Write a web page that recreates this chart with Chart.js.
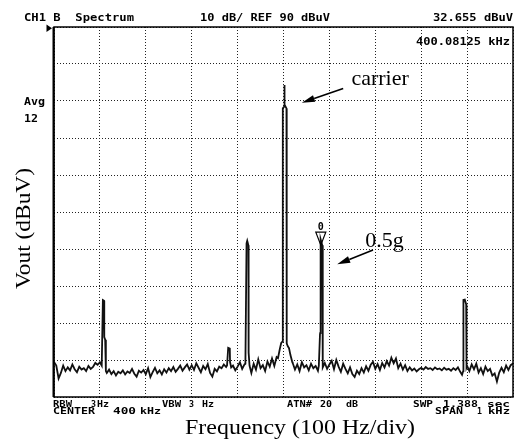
<!DOCTYPE html>
<html>
<head>
<meta charset="utf-8">
<script src="https://cdn.jsdelivr.net/npm/chart.js@4.4.1/dist/chart.umd.min.js"></script>
<style>
  html, body { margin: 0; padding: 0; background: #fff; }
  canvas { display: block; }
</style>
</head>
<body>
<canvas id="spectrum" width="514" height="440"></canvas>
<script>
// Spectrum analyzer screen: CENTER 400 kHz, SPAN 1 kHz, 10 dB/div, REF 90 dBuV

// axis range (offset from 400 kHz in Hz, level in dBuV)
const spanHz = [-500, 500];
const levelDb = [-10, 90];
const divHz = 100;
const divDb = 10;

// noise floor, one value per 5 Hz bin from -500 Hz to +500 Hz
const binStartHz = -500;
const binStepHz = 5;
const noiseDb = [
    -0.5, -1.5, -5, -3.5, -1.5, -3, -2, -2.8, -1.2, -2.5, -3.3, -1.8, -2.6, -2.2, -3, -1.6, -2.4, -1.9, -0.8, -1.3,
    -0.6, -1, -2, -3.5, -2.6, -3.8, -3, -4.2, -3.2, -3.6, -2.8, -3.9, -3.1, -3.5, -2.4, -3.7, -4.5, -2.9, -3.4, -2.7,
    -3.8, -2.2, -4.6, -3.3, -2.1, -3.6, -2.8, -3.9, -2.5, -3.4, -2.2, -3, -1.9, -3.2, -2.4, -1.5, -2.9, -2, -1.2, -2.6,
    -1.4, -2.7, -0.9, -2.1, -3.3, -1.6, -2.5, -1.1, -3.5, -4.5, -2.4, -3.1, -1.8, -2.2, -1.2, -1.9, -0.8, -1, -1.5, -2.8,
    -1.8, -0.6, -2.4, -1.2, -1, -1.5, -3.5, -1, -2.6, 0.2, -2.2, -1.4, -3, -0.4, -1.8, 0.4, -1.6, 0.8, 1.5, 3,
    5, 4, 3.5, 1.5, -0.8, -2.6, -1.2, -3, -0.6, -2, -1.4, -2.8, -1, -2.2, -1.6, -2.9, -1.5, -2, -0.8, -2.4,
    -1.2, -0.2, -2.5, 0, -1.8, -3.2, -1, -2.4, -3.6, -2, -3.8, -4.6, -2.9, -3.8, -2.2, -3.4, -1.7, -2.9, -1.3, -0.5,
    -2.4, -1.1, -2.7, -0.8, -2, -0.3, -1.5, 0.6, -0.9, 0.4, -2.2, -1, -2.6, -1.4, -3, -2, -2.8, -2.3, -3.1, -2.5,
    -2.1, -2.6, -1.9, -2.4, -2.2, -2.7, -2, -2.5, -2.3, -2.8, -2.1, -2.6, -2.4, -2.9, -2.2, -2.7, -2, -3.2, -3.5, -2,
    -1.6, -3, -1.2, -2.5, -1, -3.4, -2.2, -3.8, -1.8, -3, -2.4, -4.2, -3.6, -5.8, -3.4, -2.1, -3.3, -1.5, -2.7, -1.4,
    -0.9
];

// spectral lines [Hz, dBuV]
const leftOuterLine = [[-396, -1.5], [-393.5, 16.2], [-391, 16], [-390.5, 6.2], [-388.5, 5.5], [-387, -3]];
const smallSpur = [[-123, -1.5], [-120.5, 3.3], [-117, 3.1], [-116.5, -0.5], [-114, -2]];
const leftSideband = [[-83, -1], [-80.5, 31.5], [-79, 32.2], [-76.5, 31], [-76, 2], [-74, -1.5]];
const carrierLine = [[-12, 0.5], [-8, 3], [-5, 4.6], [-2, 5], [-1.5, 68], [1.5, 68.5], [2, 74.3], [2.5, 69],
    [6.5, 68], [7, 4.5], [9, 3.8], [12, 3.2], [15, 1.4], [19, -0.5]];
const rightSideband = [[77, -1.5], [79.5, 7], [80, 7.3], [80.5, 31.5], [81.25, 32.655], [84.5, 31], [85, -0.5], [86, -2]];
const rightOuterLine = [[389, -4], [391.5, -3], [392, 16.2], [395, 16.3], [398, 15], [398.5, -1], [399, -2]];

// marker 0
const markerHz = 81.25;
const markerDb = 32.655;

// annotation anchors [Hz, dBuV]
const carrierLabelAt = [148, 74.4];
const carrierArrow = [[130, 73.4], [40, 69.5]];
const sidebandLabelAt = [178, 30.5];
const sidebandArrow = [[195, 29.7], [117, 25.9]];

const spectralLines = [leftOuterLine, smallSpur, leftSideband, carrierLine, rightSideband, rightOuterLine];

// trace = noise bins outside the spectral lines + the spectral lines
const trace = [];
noiseDb.forEach(function(db, i) {
    const hz = binStartHz + i * binStepHz;
    const covered = spectralLines.some(function(line) {
        return hz >= line[0][0] && hz <= line[line.length - 1][0];
    });
    if (!covered) {
        trace.push({x: hz, y: db});
    }
});
spectralLines.forEach(function(line) {
    line.forEach(function(p) {
        trace.push({x: p[0], y: p[1]});
    });
});
trace.sort(function(a, b) { return a.x - b.x; });

// stretch text to a measured width
function fitText(ctx, text, x, y, width, font) {
    ctx.font = font;
    const w = ctx.measureText(text).width;
    ctx.save();
    ctx.translate(x, y);
    ctx.scale(width / w, 1);
    ctx.fillText(text, 0, 0);
    ctx.restore();
}

function arrow(ctx, from, to) {
    const ang = Math.atan2(to[1] - from[1], to[0] - from[0]);
    const len = 13;
    const half = 3.5;
    const bx = to[0] - len * Math.cos(ang);
    const by = to[1] - len * Math.sin(ang);
    ctx.lineWidth = 1.6;
    ctx.beginPath();
    ctx.moveTo(from[0], from[1]);
    ctx.lineTo(bx, by);
    ctx.stroke();
    ctx.beginPath();
    ctx.moveTo(to[0], to[1]);
    ctx.lineTo(bx - half * Math.sin(ang), by + half * Math.cos(ang));
    ctx.lineTo(bx + half * Math.sin(ang), by - half * Math.cos(ang));
    ctx.closePath();
    ctx.fill();
}

const analyzerScreen = {
    id: 'analyzerScreen',
    afterDraw: function(chart) {
        const ctx = chart.ctx;
        const a = chart.chartArea;
        const sx = chart.scales.x;
        const sy = chart.scales.y;
        const px = function(p) { return [sx.getPixelForValue(p[0]), sy.getPixelForValue(p[1])]; };
        const mono = '"DejaVu Sans Mono", monospace';
        const serif = '"Liberation Serif", "Times New Roman", serif';

        ctx.save();
        ctx.fillStyle = '#000';
        ctx.strokeStyle = '#000';

        // frame
        ctx.lineWidth = 1.5;
        ctx.strokeRect(a.left, a.top, a.right - a.left, a.bottom - a.top);
        ctx.lineWidth = 2;
        ctx.beginPath();
        ctx.moveTo(a.left - 0.5, a.top);
        ctx.lineTo(a.left - 0.5, a.bottom);
        ctx.stroke();

        // reference level pointer
        ctx.beginPath();
        ctx.moveTo(a.left - 7.5, a.top - 2.5);
        ctx.lineTo(a.left - 7.5, a.top + 5);
        ctx.lineTo(a.left - 2, a.top + 1.3);
        ctx.closePath();
        ctx.fill();

        // header
        ctx.textBaseline = 'alphabetic';
        const h = 'bold 10px ' + mono;
        fitText(ctx, 'CH1 B  Spectrum', 24, 21, 110, h);
        fitText(ctx, '10 dB/ REF 90 dBuV', 200, 21, 130, h);
        fitText(ctx, '32.655 dBuV', 433, 21, 80, h);
        fitText(ctx, '400.08125 kHz', 416, 45, 94, h);
        fitText(ctx, 'Avg', 24, 105, 21, h);
        fitText(ctx, '12', 24, 122, 14, h);

        // footer
        const f = 'bold 8.5px ' + mono;
        fitText(ctx, 'RBW', 53, 407, 19, f);
        fitText(ctx, '3', 91, 407, 5, f);
        fitText(ctx, 'Hz', 97, 407, 12, f);
        fitText(ctx, 'VBW', 162, 407, 19, f);
        fitText(ctx, '3', 189, 407, 5, f);
        fitText(ctx, 'Hz', 202, 407, 12, f);
        fitText(ctx, 'ATN#', 287, 407, 25, f);
        fitText(ctx, '20', 320, 407, 12, f);
        fitText(ctx, 'dB', 346, 407, 12, f);
        fitText(ctx, 'SWP', 413, 407, 20, f);
        fitText(ctx, '1.388', 443, 407, 35, f);
        fitText(ctx, 'sec', 487, 407, 23, f);
        fitText(ctx, 'CENTER', 53, 414, 42, f);
        fitText(ctx, '400', 113, 414, 23, f);
        fitText(ctx, 'kHz', 140, 414, 21, f);
        fitText(ctx, 'SPAN', 435, 414, 28, f);
        fitText(ctx, '1', 477, 414, 5, f);
        fitText(ctx, 'kHz', 488, 414, 22, f);

        // axis titles
        fitText(ctx, 'Frequency (100 Hz/div)', 185, 434, 230, '20px ' + serif);
        ctx.save();
        ctx.translate(30, 289);
        ctx.rotate(-Math.PI / 2);
        fitText(ctx, 'Vout (dBuV)', 0, 0, 121, '20px ' + serif);
        ctx.restore();

        // marker 0
        const m = px([markerHz, markerDb]);
        ctx.lineWidth = 1.2;
        ctx.beginPath();
        ctx.moveTo(m[0] - 5, m[1] - 7);
        ctx.lineTo(m[0] + 5, m[1] - 7);
        ctx.lineTo(m[0], m[1] + 6);
        ctx.closePath();
        ctx.stroke();
        ctx.font = 'bold 10px ' + mono;
        ctx.textAlign = 'center';
        ctx.fillText('0', m[0], m[1] - 9);
        ctx.textAlign = 'left';

        // annotations
        ctx.font = '22px ' + serif;
        const c = px(carrierLabelAt);
        ctx.fillText('carrier', c[0], c[1]);
        arrow(ctx, px(carrierArrow[0]), px(carrierArrow[1]));
        const s = px(sidebandLabelAt);
        ctx.fillText('0.5g', s[0], s[1]);
        arrow(ctx, px(sidebandArrow[0]), px(sidebandArrow[1]));

        ctx.restore();
    }
};

const gridDots = {
    color: '#222',
    lineWidth: 1,
    drawTicks: false
};

new Chart(document.getElementById('spectrum'), {
    type: 'line',
    data: {
        datasets: [{
            data: trace,
            borderColor: '#111',
            borderWidth: 1.8,
            pointRadius: 0,
            tension: 0,
            fill: false
        }]
    },
    options: {
        responsive: false,
        animation: false,
        layout: {
            padding: {left: 54, right: 1, top: 27, bottom: 43}
        },
        scales: {
            x: {
                type: 'linear',
                min: spanHz[0],
                max: spanHz[1],
                ticks: {display: false, stepSize: divHz},
                grid: gridDots,
                border: {display: false, dash: [1, 2]}
            },
            y: {
                type: 'linear',
                min: levelDb[0],
                max: levelDb[1],
                ticks: {display: false, stepSize: divDb},
                grid: gridDots,
                border: {display: false, dash: [1, 2]}
            }
        },
        plugins: {
            legend: {display: false},
            tooltip: {enabled: false}
        }
    },
    plugins: [analyzerScreen]
});
</script>
</body>
</html>
